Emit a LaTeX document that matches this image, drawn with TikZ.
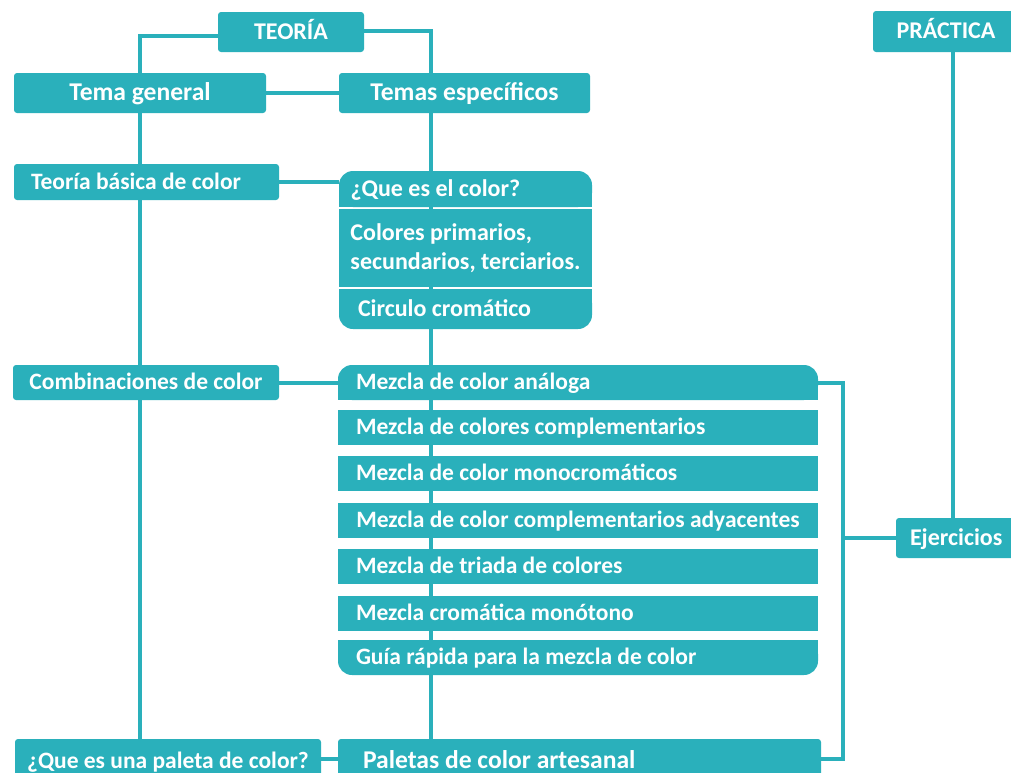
\documentclass[tikz,border=0pt]{standalone}
\usepackage{fontspec}
\setmainfont{Carlito}
\usetikzlibrary{calc,backgrounds}
\hyphenpenalty=10000
\definecolor{turq}{RGB}{42,176,187}
\tikzset{
	cell/.style={fill=turq, text=white, inner sep=0pt, font=\bfseries\fontsize{24}{28.5}\selectfont},
	bigtext/.style={font=\bfseries\fontsize{25.6}{30}\selectfont},
	smalltext/.style={font=\bfseries\fontsize{23.5}{28}\selectfont},
	tbox/.style={cell, rounded corners=3pt, text height=16pt, text depth=2pt},
	stripbase/.style={cell, smalltext, text height=16pt, text depth=2pt, minimum height=35pt, minimum width=480pt},
	strip/.style={stripbase, text width=444pt, inner xsep=18pt, align=flush left},
	link/.style={line width=4pt, color=turq}
}

\begin{document}
\begin{tikzpicture}[x=1pt, y=-1pt]
	%%%%% START %%%%%
	\useasboundingbox (0, 0) rectangle (1011, 772);
	\clip (0, 0) rectangle (1011, 772);
	
	\node[tbox, minimum width=146pt, minimum height=40pt] (teoria) at (291, 32) {TEORÍA};
	\node[tbox, minimum width=146pt, minimum height=41pt] (practica) at (946, 31.5) {PRÁCTICA};
	
	\node[tbox, bigtext, minimum width=252pt, minimum height=40pt] (temagen) at (140, 93) {Tema general};
	\node[tbox, bigtext, minimum width=251pt, minimum height=40pt] (temaesp) at (464.5, 93) {Temas específicos};
	
	\node[tbox, smalltext, minimum height=36pt, text width=231pt, inner xsep=17pt, align=flush left] (basica) at (146.5, 182) {Teoría básica de color};
	\node[tbox, smalltext, minimum width=266pt, minimum height=35pt] (combi) at (146, 382.5) {Combinaciones de color};
	\node[tbox, smalltext, minimum width=306pt, minimum height=44pt] (paleta) at (168, 761) {¿Que es una paleta de color?};
	
	\node[cell, rounded corners=14pt, text height=16pt, text depth=2pt, minimum height=36pt, text width=230pt, inner xsep=11.5pt, align=flush left] (color1) at (465.5, 189) {¿Que es el color?};
	\node[cell, minimum height=78pt, minimum width=253pt, align=left] (color2) at (465.5, 248) {Colores primarios,\\secundarios, terciarios.};
	\node[cell, rounded corners=14pt, text height=16pt, text depth=2pt, minimum height=40pt, text width=215pt, inner xsep=19pt, align=flush left] (color3) at (465.5, 309) {Circulo cromático};
	
	\node[strip, rounded corners=14pt] (m1) at (578, 382.5) {Mezcla de color análoga};
	\node[strip] (m2) at (578, 427) {Mezcla de colores complementarios};
	\node[strip] (m3) at (578, 473.5) {Mezcla de color monocromáticos};
	\node[stripbase] (m4) at (578, 520.5) {Mezcla de color complementarios adyacentes};
	\node[strip] (m5) at (578, 566.5) {Mezcla de triada de colores};
	\node[strip] (m6) at (578, 613.5) {Mezcla cromática monótono};
	\node[strip, rounded corners=14pt] (m7) at (578, 657.5) {Guía rápida para la mezcla de color};
	
	\node[tbox, bigtext, minimum height=44pt, text width=433pt, inner xsep=25pt, align=flush left] (artes) at (579.5, 761) {Paletas de color artesanal};
	\node[tbox, minimum height=40pt, text width=102pt, inner xsep=14pt, align=flush left] (ejer) at (961, 538) {Ejercicios};
	
	\coordinate (spine) at (431, 0);
	\coordinate (brk) at (843, 538);
	
	\begin{scope}[on background layer]
		% square off the inner corners
		\fill[turq] (color1.west) rectangle (color1.south east);
		\fill[turq] (color3.north west) rectangle (color3.east);
		\fill[turq] (m1.west) rectangle (m1.south east);
		\fill[turq] (m7.north west) rectangle (m7.east);
		
		\draw[link] ([yshift=-4pt]teoria.west) -| (temagen.north);
		\draw[link] ([yshift=1pt]teoria.east) -| (temaesp.north -| spine);
		\draw[link] (temagen.east) -- (temaesp.west);
		\draw[link] (temagen.south) -- (temagen.south |- paleta.north);
		\draw[link] (basica.east) -- (basica.east -| color1.west);
		\draw[link] (combi.east) -- (m1.west);
		\draw[link] ([yshift=2pt]paleta.east) -- ([yshift=2pt]artes.west);
		\draw[link] (temaesp.south -| spine) -- (artes.north -| spine);
		\draw[link] (m1.east) -| (brk) |- ([yshift=2pt]artes.east);
		\draw[link] (brk) -- (ejer.west);
		\draw[link] ([xshift=7pt]practica.south) -- ([xshift=-8pt]ejer.north);
	\end{scope}
	
	%%%%% END %%%%%
\end{tikzpicture}
\end{document}
